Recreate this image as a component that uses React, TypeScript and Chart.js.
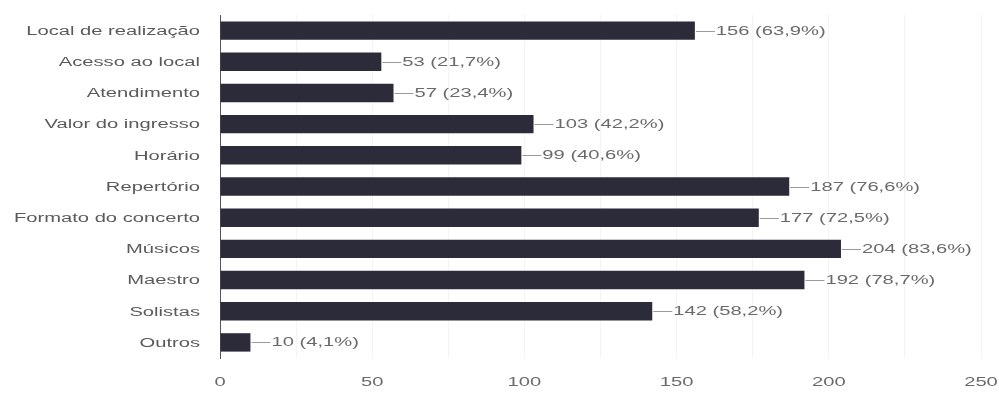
import React, { useEffect, useRef } from "react";
import { Chart, registerables } from "chart.js";

Chart.register(...registerables);

const categories = [
  "Local de realização",
  "Acesso ao local",
  "Atendimento",
  "Valor do ingresso",
  "Horário",
  "Repertório",
  "Formato do concerto",
  "Músicos",
  "Maestro",
  "Solistas",
  "Outros",
];
const counts = [156, 53, 57, 103, 99, 187, 177, 204, 192, 142, 10];
const percents = ["63,9%", "21,7%", "23,4%", "42,2%", "40,6%", "76,6%", "72,5%", "83,6%", "78,7%", "58,2%", "4,1%"];
const xTickLabels = [0, 50, 100, 150, 200, 250];

const FONT = "'Liberation Sans', Arial, sans-serif";
const SX = 1.68; // horizontal stretch of the text in the reference

function drawStretched(ctx: CanvasRenderingContext2D, text: string, x: number, y: number, align: CanvasTextAlign, color: string) {
  ctx.save();
  ctx.translate(x, y);
  ctx.scale(SX, 1);
  ctx.font = `12px ${FONT}`;
  ctx.textAlign = align;
  ctx.textBaseline = "middle";
  ctx.fillStyle = color;
  ctx.fillText(text, 0, 0);
  ctx.restore();
}

const textPlugin = {
  id: "stretchedText",
  afterDatasetsDraw(chart: any) {
    const ctx = chart.ctx as CanvasRenderingContext2D;
    const yScale = chart.scales.y;
    const xScale = chart.scales.x;
    categories.forEach((c, i) => {
      drawStretched(ctx, c, yScale.right - 20, yScale.getPixelForValue(i) + 1, "right", "#5a5a5a");
    });
    xTickLabels.forEach((v) => {
      drawStretched(ctx, String(v), xScale.getPixelForValue(v), xScale.top + 25, "center", "#6a6a6a");
    });
    const meta = chart.getDatasetMeta(0);
    meta.data.forEach((bar: any, i: number) => {
      const x = bar.x;
      const y = Math.round(bar.y) + 0.5;
      ctx.save();
      ctx.strokeStyle = "#9a9a9a";
      ctx.lineWidth = 1;
      ctx.beginPath();
      ctx.moveTo(x + 1, y);
      ctx.lineTo(x + 20, y);
      ctx.stroke();
      ctx.restore();
      drawStretched(ctx, `${counts[i]} (${percents[i]})`, x + 21, y + 0.5, "left", "#6a6a6a");
    });
  },
};

export default function App() {
  const ref = useRef<HTMLCanvasElement>(null);
  useEffect(() => {
    document.body.style.margin = "0";
    const chart = new Chart(ref.current as HTMLCanvasElement, {
      type: "bar",
      data: {
        labels: categories,
        datasets: [
          {
            data: counts,
            backgroundColor: "#2c2b3a",
            borderWidth: 0,
            barPercentage: 0.59,
            categoryPercentage: 1,
          },
        ],
      },
      options: {
        indexAxis: "y",
        animation: false,
        responsive: false,
        maintainAspectRatio: false,
        layout: { padding: { top: 15, right: 18, left: 0, bottom: 0 } },
        plugins: { legend: { display: false }, tooltip: { enabled: false } },
        scales: {
          x: {
            min: 0,
            max: 250,
            ticks: { display: false, stepSize: 25 },
            afterFit: (scale: any) => {
              scale.height = 36;
            },
            grid: { color: "rgba(0,0,0,0.045)", drawTicks: false },
            border: { display: false },
          },
          y: {
            ticks: { display: false },
            afterFit: (scale: any) => {
              scale.width = 220;
            },
            grid: { display: false },
            border: { display: true, color: "#555", width: 1 },
          },
        },
      },
      plugins: [textPlugin],
    });
    return () => chart.destroy();
  }, []);
  return (
    <div style={{ position: "absolute", left: 0, top: 0, width: 999, height: 394, background: "#fff" }}>
      <canvas ref={ref} width={999} height={394} style={{ width: 999, height: 394 }} />
    </div>
  );
}
